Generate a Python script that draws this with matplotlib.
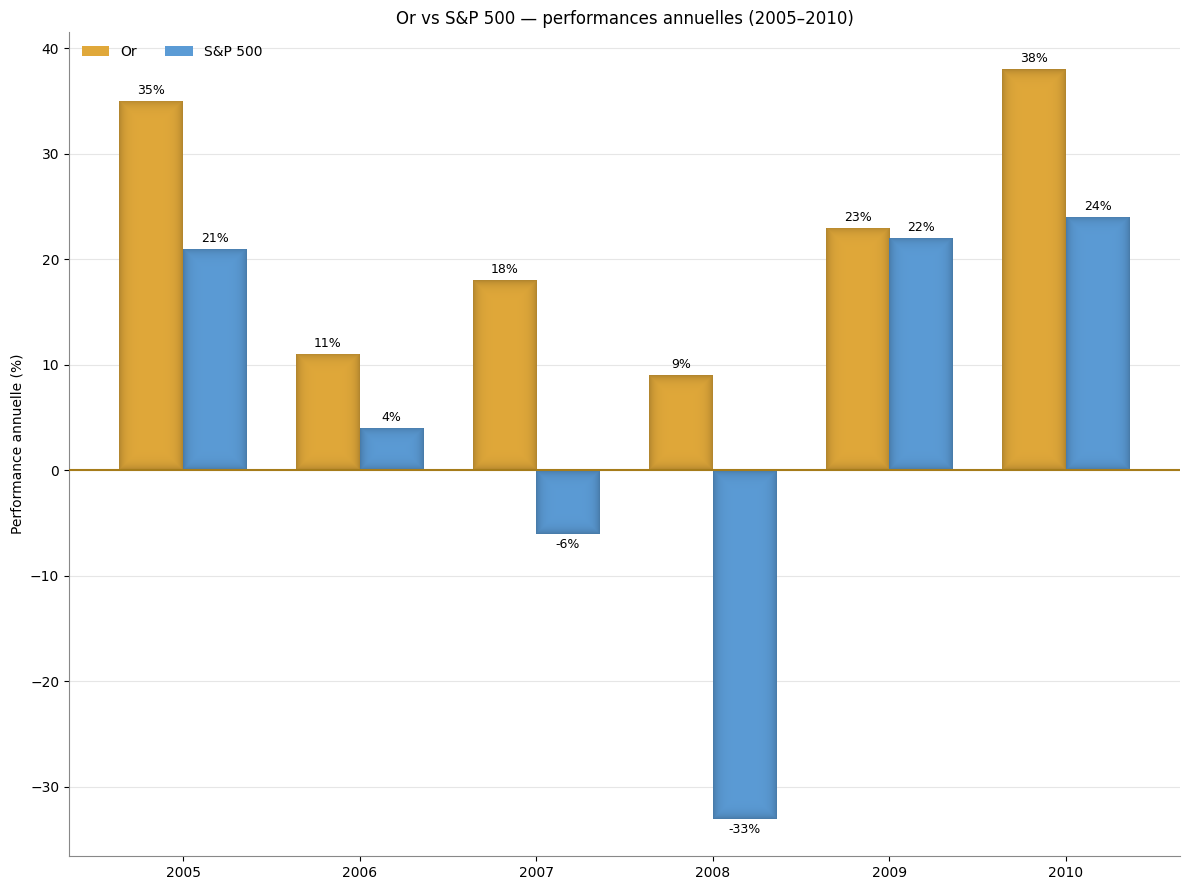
import numpy as np
import matplotlib
matplotlib.use("Agg")
import matplotlib.pyplot as plt
from matplotlib.colors import to_rgb

years = ["2005", "2006", "2007", "2008", "2009", "2010"]
gold = [35, 11, 18, 9, 23, 38]
sp500 = [21, 4, -6, -33, 22, 24]
series_names = ["Or", "S&P 500"]
colors = ["#E0A83A", "#5B9BD5"]

fig, ax = plt.subplots(figsize=(11.89, 8.9), dpi=100)
fig.subplots_adjust(left=69 / 1189, right=1180 / 1189, top=1 - 32 / 890, bottom=1 - 856 / 890)
x = np.arange(len(years))
w = 0.36

series_bars = []
for i, (vals, name, c) in enumerate(zip([gold, sp500], series_names, colors)):
    off = (i - 0.5) * w
    bars = ax.bar(x + off, vals, w, color=c, label=name, zorder=2)
    series_bars.append((bars, c))
    for xi, v in zip(x + off, vals):
        if v >= 0:
            ax.annotate(f"{v}%", (xi, v), xytext=(0, 3), textcoords="offset points",
                        ha="center", va="bottom", fontsize=9)
        else:
            ax.annotate(f"{v}%", (xi, v), xytext=(0, -3), textcoords="offset points",
                        ha="center", va="top", fontsize=9)

ax.set_xticks(x)
ax.set_xticklabels(years)
ax.set_ylabel("Performance annuelle (%)")
ax.set_title("Or vs S&P 500 — performances annuelles (2005–2010)", fontsize=12)
ax.yaxis.grid(True, color="#e6e6e6", linewidth=0.8, zorder=0)
ax.set_axisbelow(True)
ax.spines["top"].set_visible(False)
ax.spines["right"].set_visible(False)
ax.spines["left"].set_color("#888888")
ax.spines["bottom"].set_color("#888888")
ax.legend(loc="upper left", ncol=2, frameon=False)

xlim = ax.get_xlim()
ylim = ax.get_ylim()

# soft darker edges on each bar (pixel-based vignette)
px_per_x = ax.bbox.width / (xlim[1] - xlim[0])
px_per_y = ax.bbox.height / (ylim[1] - ylim[0])
for bars, c in series_bars:
    base = np.array(to_rgb(c))
    for b in bars:
        x0, y0 = b.get_x(), b.get_y()
        bw, bh = b.get_width(), b.get_height()
        nw = max(int(abs(bw) * px_per_x), 2)
        nh = max(int(abs(bh) * px_per_y), 2)
        cx = np.arange(nw) + 0.5
        cy = np.arange(nh) + 0.5
        dx = np.minimum(cx, nw - cx)
        dy = np.minimum(cy, nh - cy)
        d = np.minimum(dx[None, :], dy[:, None])
        fac = 1 - 0.22 * np.exp(-d / 5.0)
        img = base[None, None, :] * fac[:, :, None]
        im = ax.imshow(img, extent=(x0, x0 + bw, min(y0, y0 + bh), max(y0, y0 + bh)),
                       aspect="auto", origin="lower", zorder=2.5,
                       interpolation="bilinear")
        im.set_clip_path(b)

ax.axhline(0, color="#A67C1A", linewidth=1.5, zorder=3)
ax.set_xlim(xlim)
ax.set_ylim(ylim)
fig.savefig("out.png", dpi=100)
